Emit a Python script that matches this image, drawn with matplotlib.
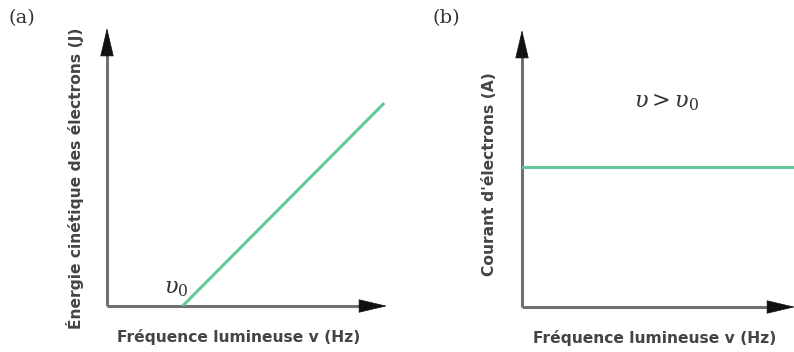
import numpy as np
import matplotlib.pyplot as plt

plt.rcParams['mathtext.fontset'] = 'dejavuserif'

# panel (a): kinetic energy vs frequency (arbitrary units, axes run 0..1)
freq_a = [0.27, 0.99]
energy_a = [0.0, 0.73]
# panel (b): current vs frequency, flat above threshold
freq_b = [0.0, 1.0]
current_b = [0.505, 0.505]

green = '#62c99a'
shaft_col = '#707070'
head_col = '#111111'
label_col = '#444444'

W, H = 794, 352
fig = plt.figure(figsize=(W / 100, H / 100), dpi=100)

def make_axes(left, bottom, width, height):
    # pixel box -> figure fraction
    ax = fig.add_axes([left / W, 1 - bottom / H, width / W, height / H])
    ax.set_xlim(0, 1)
    ax.set_ylim(0, 1)
    for s in ax.spines.values():
        s.set_visible(False)
    ax.set_xticks([])
    ax.set_yticks([])
    ax.patch.set_alpha(0)
    # grey shafts, dark heads
    ax.plot([0, 0.97], [0, 0], color=shaft_col, lw=2.2, transform=ax.transAxes,
            clip_on=False, solid_capstyle='butt')
    ax.plot([0, 0], [0, 0.97], color=shaft_col, lw=2.2, transform=ax.transAxes,
            clip_on=False, solid_capstyle='butt')
    head = dict(arrowstyle='-|>,head_length=1.9,head_width=0.45', color=head_col, lw=0.5,
                shrinkA=0, shrinkB=0)
    ax.annotate('', xy=(1, 0), xytext=(0.9, 0), xycoords='axes fraction', arrowprops=head)
    ax.annotate('', xy=(0, 1), xytext=(0, 0.9), xycoords='axes fraction', arrowprops=head)
    return ax

lab = dict(fontsize=11.2, fontweight='bold', color=label_col, family='DejaVu Sans')

# (a)
ax1 = make_axes(107, 306, 280, 278)
ax1.plot(freq_a, energy_a, color=green, lw=2.2, solid_capstyle='butt')
ax1.text(freq_a[0] + 0.02, 0.025, r'$\upsilon_0$', fontsize=16, color='#333333',
         ha='right', va='bottom')
ax1.text(-0.115, 0.46, 'Énergie cinétique des électrons (J)', rotation=90,
         ha='center', va='center', transform=ax1.transAxes, **lab)
ax1.text(0.47, -0.112, 'Fréquence lumineuse v (Hz)', ha='center', va='center',
         transform=ax1.transAxes, **lab)
fig.text(9 / W, 1 - 18 / H, '(a)', fontsize=14, family='DejaVu Serif', color='#333333',
         ha='left', va='center')

# (b)
ax2 = make_axes(522, 307, 273, 277)
ax2.plot(freq_b, current_b, color=green, lw=2.2)
ax2.text(0.53, 0.74, r'$\upsilon > \upsilon_0$', fontsize=16, color='#333333',
         ha='center', va='center')
ax2.text(-0.12, 0.48, "Courant d'électrons (A)", rotation=90, ha='center', va='center',
         transform=ax2.transAxes, **lab)
ax2.text(0.485, -0.112, 'Fréquence lumineuse v (Hz)', ha='center', va='center',
         transform=ax2.transAxes, **lab)
fig.text(432 / W, 1 - 18 / H, '(b)', fontsize=14, family='DejaVu Serif', color='#333333',
         ha='left', va='center')

fig.savefig('out.png', dpi=100)
